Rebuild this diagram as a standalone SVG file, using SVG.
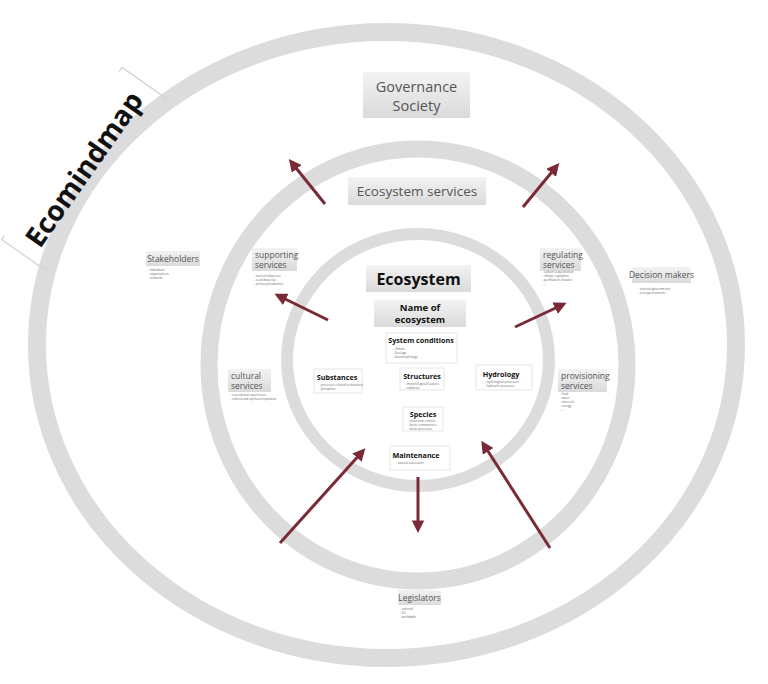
<svg xmlns="http://www.w3.org/2000/svg" width="768" height="684" viewBox="0 0 768 684">
<defs>
<linearGradient id="g" x1="0" y1="0" x2="0" y2="1"><stop offset="0" stop-color="#f3f3f3"/><stop offset="1" stop-color="#dadada"/></linearGradient>
<marker id="ah" viewBox="0 0 10 10" refX="6" refY="5" markerWidth="4.2" markerHeight="4.2" orient="auto" markerUnits="strokeWidth"><path d="M0,0 L10,5 L0,10 z" fill="#7a2a36"/></marker>
<style>
.ring{fill:none;stroke:#dcdcdc}
.box{fill:url(#g)}
.wbox{fill:#fff;stroke:#e6e6e6;stroke-width:1}
.lbl{font-family:"Open Sans","DejaVu Sans",sans-serif;fill:#555}
.bold{font-family:"Open Sans","DejaVu Sans",sans-serif;font-weight:bold;fill:#111}
.sm{font-family:"Open Sans","DejaVu Sans",sans-serif;fill:#666;font-size:3px}
.arr{stroke:#7a2a36;stroke-width:3;fill:none;marker-end:url(#ah)}
.brk{fill:none;stroke:#d4d4d4;stroke-width:1.3}
</style>
</defs>
<rect width="768" height="684" fill="#fff"/>
<g id="rings">
<ellipse class="ring" cx="386.5" cy="345" rx="349.5" ry="313" stroke-width="18"/>
<ellipse class="ring" cx="418" cy="365" rx="209" ry="216" stroke-width="17"/>
<ellipse class="ring" cx="418" cy="360" rx="131" ry="126" stroke-width="12"/>
</g>
<g id="title" transform="translate(84,169) rotate(-55)">
<text class="bold" x="0" y="10" font-size="28" text-anchor="middle" fill="#000">Ecomindmap</text>
<path class="brk" d="M-100,-27 L-105,-27 L-105,27 L-100,27"/>
<path class="brk" d="M100,-27 L105,-27 L105,27 L100,27"/>
</g>
<g id="connectors">
<line class="arr" x1="325" y1="204" x2="292" y2="163"/>
<line class="arr" x1="523" y1="207" x2="556" y2="167"/>
<line class="arr" x1="328" y1="320" x2="279" y2="296"/>
<line class="arr" x1="515" y1="327" x2="562" y2="305"/>
<line class="arr" x1="280" y1="543" x2="362" y2="452"/>
<line class="arr" x1="550" y1="548" x2="484" y2="445"/>
<line class="arr" x1="418" y1="477" x2="418" y2="528"/>
</g>
<g id="governance">
<rect class="box" x="363" y="72" width="107" height="46"/>
<text class="lbl" x="416.5" y="92" font-size="14.5" text-anchor="middle">Governance</text>
<text class="lbl" x="416.5" y="111" font-size="14.5" text-anchor="middle">Society</text>
</g>
<g id="ecoservices">
<rect class="box" x="348" y="177" width="138" height="28"/>
<text class="lbl" x="417" y="196" font-size="13.5" text-anchor="middle">Ecosystem services</text>
</g>
<g id="ecosystem">
<rect class="box" x="366" y="265" width="105" height="27"/>
<text class="bold" x="418.5" y="285" font-size="16" text-anchor="middle">Ecosystem</text>
</g>
<g id="nameeco">
<rect class="box" x="374" y="300" width="92" height="27"/>
<text class="bold" x="420" y="311" font-size="9.5" text-anchor="middle">Name of</text>
<text class="bold" x="420" y="323" font-size="9.5" text-anchor="middle">ecosystem</text>
</g>
<g id="sysconditions">
<rect class="wbox" x="386" y="333" width="71" height="30"/>
<text class="bold" x="421" y="343" font-size="7.2" text-anchor="middle">System conditions</text>
<text class="sm" x="393" y="350">- climate</text>
<text class="sm" x="393" y="354">- Geology</text>
<text class="sm" x="393" y="358">- Geomorphology</text>
</g>
<g id="substances">
<rect class="wbox" x="314" y="369" width="48" height="24"/>
<text class="bold" x="337" y="380" font-size="7.2" text-anchor="middle">Substances</text>
<text class="sm" x="319" y="386">- processes related to dissolved</text>
<text class="sm" x="319" y="390">- phosphate</text>
</g>
<g id="structures">
<rect class="wbox" x="400" y="368" width="44" height="22"/>
<text class="bold" x="422" y="379" font-size="7.2" text-anchor="middle">Structures</text>
<text class="sm" x="405" y="385">- morphological features</text>
<text class="sm" x="405" y="389">- substrate</text>
</g>
<g id="hydrology">
<rect class="wbox" x="476" y="365" width="56" height="25"/>
<text class="bold" x="501" y="377" font-size="7.2" text-anchor="middle">Hydrology</text>
<text class="sm" x="485" y="383">- hydrological processes</text>
<text class="sm" x="485" y="387">- hydraulic processes</text>
</g>
<g id="species">
<rect class="wbox" x="403" y="407" width="40" height="24"/>
<text class="bold" x="423" y="417" font-size="7.2" text-anchor="middle">Species</text>
<text class="sm" x="408" y="422">- taxonomic entities</text>
<text class="sm" x="408" y="426">- biotic communities</text>
<text class="sm" x="408" y="430">- biotic processes</text>
</g>
<g id="maintenance">
<rect class="wbox" x="390" y="446" width="60" height="24"/>
<text class="bold" x="416" y="458" font-size="7.2" text-anchor="middle">Maintenance</text>
<text class="sm" x="396" y="464">- natural succession</text>
</g>
<g id="stakeholders">
<rect class="box" x="146" y="251" width="54" height="15"/>
<text class="lbl" x="173" y="262" font-size="8.5" text-anchor="middle">Stakeholders</text>
<text class="sm" x="148" y="271">- individuals</text>
<text class="sm" x="148" y="275">- organisations</text>
<text class="sm" x="148" y="279">- networks</text>
</g>
<g id="supporting">
<rect class="box" x="252" y="248" width="45" height="23"/>
<text class="lbl" x="255" y="258" font-size="8.5">supporting</text>
<text class="lbl" x="255" y="268" font-size="8.5">services</text>
<text class="sm" x="254" y="277">- nutrient dispersal</text>
<text class="sm" x="254" y="281">- seed dispersal</text>
<text class="sm" x="254" y="285">- primary production</text>
</g>
<g id="regulating">
<rect class="box" x="540" y="248" width="41" height="23"/>
<text class="lbl" x="543" y="258" font-size="8.5">regulating</text>
<text class="lbl" x="543" y="268" font-size="8.5">services</text>
<text class="sm" x="542" y="273">- carbon sequestration</text>
<text class="sm" x="542" y="277">- climate regulation</text>
<text class="sm" x="542" y="281">- purification of water</text>
<text class="sm" x="542" y="285">- ...</text>
</g>
<g id="decisionmakers">
<rect class="box" x="632" y="267" width="59" height="16"/>
<text class="lbl" x="661.5" y="278" font-size="8.5" text-anchor="middle">Decision makers</text>
<text class="sm" x="638" y="290">- national governments</text>
<text class="sm" x="638" y="294">- local governments</text>
</g>
<g id="cultural">
<rect class="box" x="228" y="369" width="43" height="23"/>
<text class="lbl" x="231" y="379" font-size="8.5">cultural</text>
<text class="lbl" x="231" y="389" font-size="8.5">services</text>
<text class="sm" x="230" y="396">- recreational experiences</text>
<text class="sm" x="230" y="400">- cultural and spiritual inspiration</text>
</g>
<g id="provisioning">
<rect class="box" x="558" y="369" width="49" height="23"/>
<text class="lbl" x="561" y="379" font-size="8.5">provisioning</text>
<text class="lbl" x="561" y="389" font-size="8.5">services</text>
<text class="sm" x="560" y="395">- food</text>
<text class="sm" x="560" y="399">- water</text>
<text class="sm" x="560" y="403">- minerals</text>
<text class="sm" x="560" y="407">- energy</text>
<text class="sm" x="560" y="411">- ...</text>
</g>
<g id="legislators">
<rect class="box" x="398" y="590" width="43" height="15"/>
<text class="lbl" x="419.5" y="601" font-size="8.5" text-anchor="middle">Legislators</text>
<text class="sm" x="400" y="610">- national</text>
<text class="sm" x="400" y="614">- EU</text>
<text class="sm" x="400" y="618">- worldwide</text>
</g>
</svg>
